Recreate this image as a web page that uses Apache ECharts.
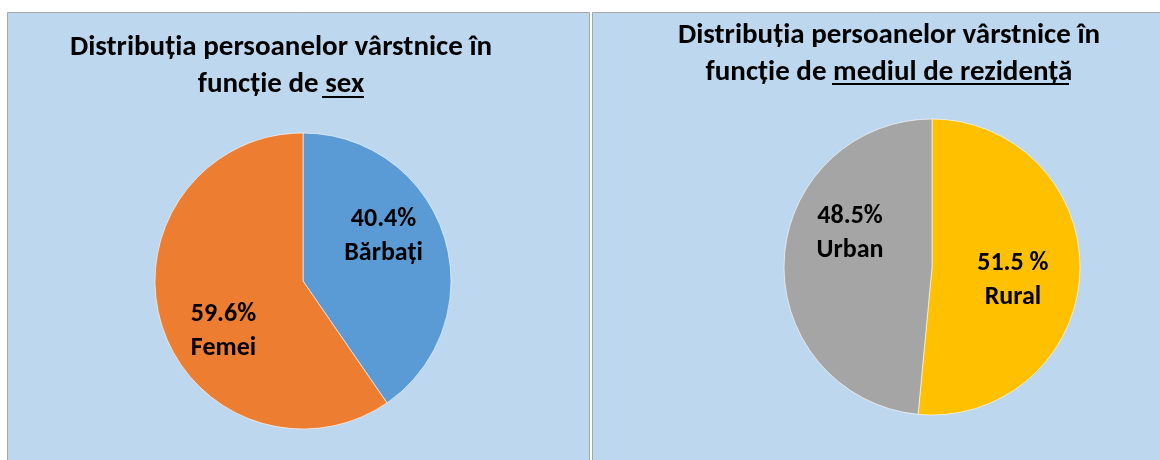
<!DOCTYPE html>
<html>
<head>
<meta charset="utf-8">
<script src="https://cdn.jsdelivr.net/npm/echarts@6/dist/echarts.min.js"></script>
<style>
  html, body { margin: 0; padding: 0; background: #fff; }
  #main { width: 1160px; height: 460px; }
</style>
</head>
<body>
<div id="main"></div>
<script>
// date
const sexNames = ['Bărbați', 'Femei'];
const sexValues = [40.4, 59.6];
const sexColors = ['#5B9BD5', '#ED7D31'];

const mediuNames = ['Rural', 'Urban'];
const mediuValues = [51.5, 48.5];
const mediuColors = ['#FFC000', '#A5A5A5'];
const mediuPctSuffix = [' %', '%'];

const font = 'Carlito, "Liberation Sans Narrow", "DejaVu Sans Condensed", sans-serif';

function makeData(names, values, colors, offsets, suffix) {
  return names.map((n, i) => ({
    name: n,
    value: values[i],
    itemStyle: { color: colors[i] },
    label: { offset: offsets[i], formatter: p => p.value.toFixed(1) + (suffix ? suffix[i] : '%') + '\n' + p.name }
  }));
}

let myChart = echarts.init(document.getElementById('main'));

const labelStyle = {
  show: true,
  position: 'inside',
  fontFamily: font,
  fontWeight: 'bold',
  fontSize: 26,
  lineHeight: 34,
  color: '#000'
};

const titleStyle = {
  fontFamily: font,
  fontWeight: 'bold',
  fontSize: 29,
  lineHeight: 37,
  color: '#000'
};

myChart.setOption({
  backgroundColor: '#fff',
  animation: false,
  graphic: [
    { type: 'rect', shape: { x: 7.5, y: 12.5, width: 582, height: 470 }, style: { fill: '#BDD7EE', stroke: '#A6A6A6', lineWidth: 1 }, z: -10 },
    { type: 'rect', shape: { x: 592.5, y: 12.5, width: 580, height: 470 }, style: { fill: '#BDD7EE', stroke: '#A6A6A6', lineWidth: 1 }, z: -10 },
    // sublinieri in titluri
    { type: 'line', shape: { x1: 322, y1: 97, x2: 364, y2: 97 }, style: { stroke: '#000', lineWidth: 2 } },
    { type: 'line', shape: { x1: 832, y1: 84, x2: 1069, y2: 84 }, style: { stroke: '#000', lineWidth: 2 } }
  ],
  title: [
    {
      text: 'Distribuția persoanelor vârstnice în\nfuncție de sex',
      left: 276, top: 24, textAlign: 'center',
      textStyle: titleStyle
    },
    {
      text: 'Distribuția persoanelor vârstnice în\nfuncție de mediul de rezidență',
      left: 884, top: 12, textAlign: 'center',
      textStyle: titleStyle
    }
  ],
  series: [
    {
      type: 'pie',
      center: [303, 281],
      radius: 148,
      startAngle: 90,
      clockwise: true,
      label: labelStyle,
      labelLine: { show: false },
      itemStyle: { borderColor: 'rgba(255,255,255,0.6)', borderWidth: 1 },
      emphasis: { disabled: true },
      data: makeData(sexNames, sexValues, sexColors, [[7, -22], [-6, 28]])
    },
    {
      type: 'pie',
      center: [932, 267],
      radius: 148,
      startAngle: 90,
      clockwise: true,
      label: labelStyle,
      labelLine: { show: false },
      itemStyle: { borderColor: 'rgba(255,255,255,0.6)', borderWidth: 1 },
      emphasis: { disabled: true },
      data: makeData(mediuNames, mediuValues, mediuColors, [[4, 10], [-5, -30]], mediuPctSuffix)
    }
  ]
});
</script>
</body>
</html>
